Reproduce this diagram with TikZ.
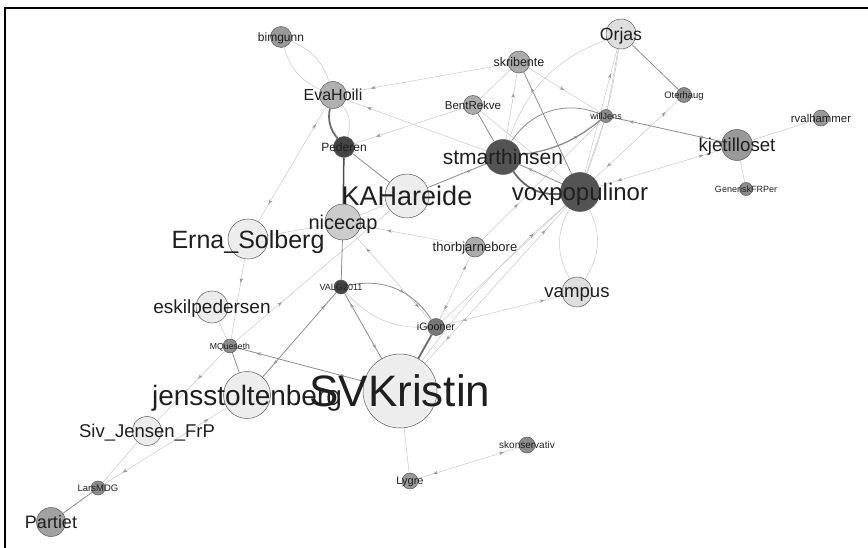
\documentclass[tikz,border=0pt]{standalone}
\usepackage{fontspec}
\setmainfont{Liberation Sans}
\usetikzlibrary{arrows.meta,decorations.markings,backgrounds}

\begin{document}
\begin{tikzpicture}
  [x=1pt,y=-1pt,every node/.style={circle,draw=black!65,line width=.5pt,inner sep=0pt}]
  \tikzstyle{lbl} = [draw=none,fill=none,rectangle,inner sep=0pt,text=black!88,text depth=0pt]
  \tikzstyle{lite} = [draw=black!22,line width=.5pt]
  \tikzstyle{mid} = [draw=black!45,line width=.8pt]
  \tikzstyle{heavy} = [draw=black!58,line width=1.8pt]
  \tikzset{midtip/.style={postaction={decorate},decoration={markings,
      mark=at position #1 with {\arrow{Stealth[length=5pt,width=3.5pt,black!40]}}}},
    twotip/.style={postaction={decorate},decoration={markings,
      mark=at position .15 with {\arrowreversed{Stealth[length=5pt,width=3.5pt,black!40]}},
      mark=at position .85 with {\arrow{Stealth[length=5pt,width=3.5pt,black!40]}}}}}
  \useasboundingbox (0,0) rectangle (868,548);
  \draw[line width=1.2pt] (5,548) -- (5,8) -- (868,8);
  % nodes: name/x/y/size/fill/font/text
  \foreach \n/\x/\y/\d/\c/\s/\t in {
    svk/400/391/74/black!7/44/SVKristin,
    kah/407/196/44/black!7/27/KAHareide,
    jen/247/395/47/black!7/28/jensstoltenberg,
    ern/248/239/40/black!7/25/Erna\_Solberg,
    esk/212/307/32/black!8/19/eskilpedersen,
    siv/147/431/29/black!8/18.5/Siv\_Jensen\_FrP,
    par/51/522/29/black!37/18/Partiet,
    lar/98/488/14/black!45/9.5/LarsMDG,
    mqu/230/346/14/black!45/8.7/MQueseth,
    val/341/287/14/black!73/9/VALG2011,
    nic/343/222/36/black!20/20/nicecap,
    ped/344/147/21/black!73/12/Pederen,
    eva/333/95/27/black!31/16/EvaHoili,
    bim/281/37/21/black!40/12/bimgunn,
    ski/519/62/22/black!33/12.5/skribente,
    ben/473/105/19/black!33/11.5/BentRekve,
    stm/503/157/35/black!67/21/stmarthinsen,
    vox/580/192/39/black!67/24/voxpopulinor,
    tho/475/247/20/black!33/13/thorbjarnebore,
    igo/436/327/17/black!53/10.7/iGooner,
    vam/577/292/30/black!13/18.6/vampus,
    lyg/410/481/16/black!40/11/Lygre,
    sko/527/445/16/black!45/10/skonservativ,
    orj/621/34/30/black!13/17.6/Orjas,
    ote/684/95/15/black!45/9.4/Oterhaug,
    wil/606/116/13/black!45/9/willJens,
    kje/737/145/31/black!40/18.7/kjetilloset,
    gen/746/189/13/black!45/9/GeneriskFRPer,
    rva/821/118/16/black!40/11.4/rvalhammer}
    \node[fill=\c,minimum size=\d pt,
      label={[lbl,font=\fontsize{\s}{\s}\selectfont]center:\t}] (\n) at (\x,\y) {};
  \begin{scope}[on background layer]
    \foreach \a/\b in {kah/nic,nic/ern,esk/mqu,siv/lar,igo/vox,svk/lyg,wil/orj,
      kje/rva,kje/gen,ben/vox,ski/ben,vox/wil}
      \draw[lite] (\a) -- (\b);
    \foreach \a/\b/\p in {ski/eva/.85,stm/eva/.85,ben/ped/.8,tho/nic/.75,mqu/kah/.3,
      ern/mqu/.3,mqu/siv/.4,vox/orj/.8,stm/ski/.7,ski/wil/.5,tho/wil/.3}
      \draw[lite,midtip=\p] (\a) -- (\b);
    \foreach \a/\b in {eva/ern,jen/lar,nic/igo,igo/tho,igo/vam,svk/vox,lyg/sko,
      vox/kje,vox/ote}
      \draw[lite,twotip] (\a) -- (\b);
    \foreach \a/\b in {ped/kah,nic/val,mqu/jen,lar/par,ben/stm,orj/ote}
      \draw[mid] (\a) -- (\b);
    \foreach \a/\b/\p in {kah/stm/.75,vox/ski/.85,vox/stm/.8}
      \draw[mid,midtip=\p] (\a) -- (\b);
    \foreach \a/\b in {mqu/svk,jen/val,val/svk,wil/kje}
      \draw[mid,twotip] (\a) -- (\b);
    % curved edges
    \draw[lite] (bim) to[bend right=25] (eva);
    \draw[lite] (bim) to[bend left=25] (eva);
    \draw[lite] (eva) to[bend left=30] (ped);
    \draw[heavy] (eva) to[bend right=25] (ped);
    \draw[heavy,line width=1.5pt,black!70] (ped) -- (nic);
    \draw[heavy] (igo) -- (svk);
    \draw[mid,midtip=.6] (val) to[bend left=35] (igo);
    \draw[lite] (val) to[bend right=25] (igo);
    \draw[heavy] (stm) to[bend right=30] (vox);
    \draw[mid] (stm) to[bend left=40] (wil);
    \draw[mid,line width=1.3pt,midtip=.7] (stm) to[bend right=15] (wil);
    \draw[lite] (stm) to[bend left=25] (orj);
    \draw[lite] (vox) to[bend left=30] (vam);
    \draw[lite] (vox) to[bend right=30] (vam);
    \draw[lite,midtip=.8] (svk) to[bend left=6] (vox);
    \draw[lite] (vox) to[bend right=6] (orj);
  \end{scope}
\end{tikzpicture}
\end{document}
